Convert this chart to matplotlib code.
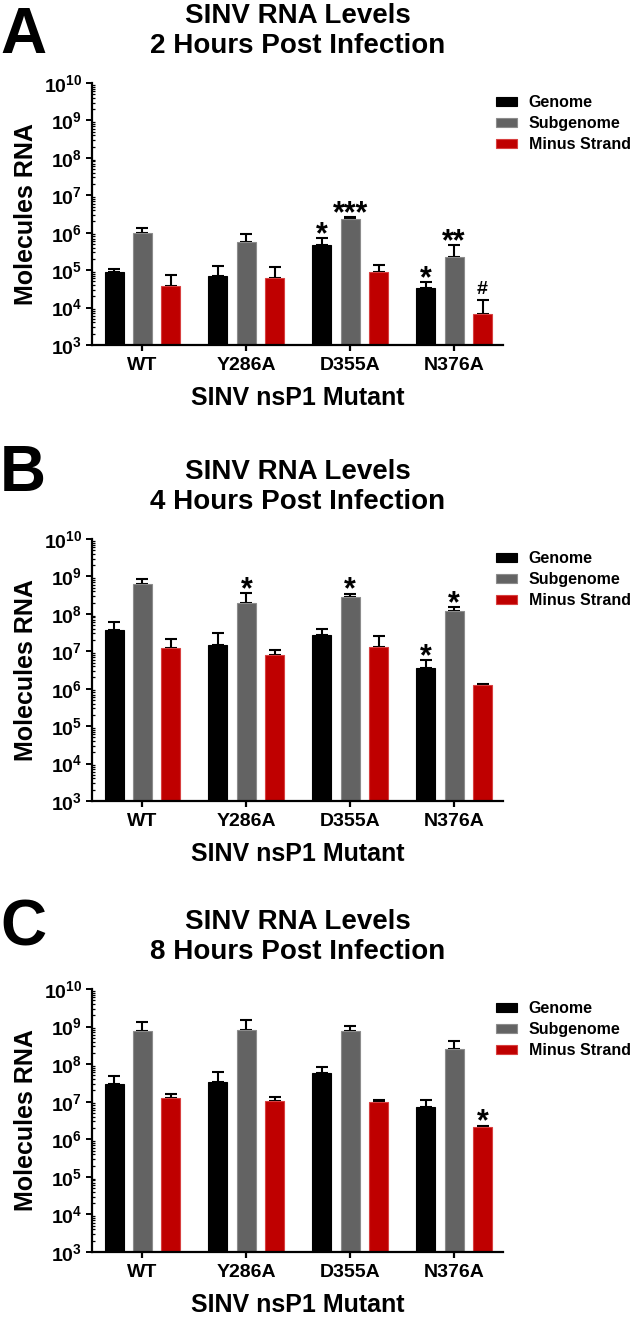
import numpy as np
import matplotlib
matplotlib.use("Agg")
import matplotlib.pyplot as plt
from matplotlib.ticker import LogLocator, FixedLocator, FixedFormatter, NullFormatter

# ==========================
# DATOS
# ==========================

mutantes = ["WT", "Y286A", "D355A", "N376A"]
series = ["Genome", "Subgenome", "Minus Strand"]
colores = ["#000000", "#636363", "#bf0000"]
bordes = ["#000000", "#8c8c8c", "#d84040"]

# 2 h
genome_2h = [9.0e4, 7.1e4, 4.7e5, 3.3e4]
genome_2h_sem = [1.7e4, 5.6e4, 2.4e5, 1.4e4]
sub_2h = [1.0e6, 5.5e5, 2.35e6, 2.2e5]
sub_2h_sem = [3.0e5, 3.9e5, 2.5e5, 2.4e5]
minus_2h = [3.7e4, 6.3e4, 8.8e4, 6.9e3]
minus_2h_sem = [3.5e4, 5.6e4, 4.9e4, 9.1e3]

# 4 h
genome_4h = [3.8e7, 1.5e7, 2.7e7, 3.5e6]
genome_4h_sem = [2.1e7, 1.5e7, 1.2e7, 2.2e6]
sub_4h = [6.3e8, 2.0e8, 2.9e8, 1.16e8]
sub_4h_sem = [2.2e8, 1.6e8, 5.5e7, 3.6e7]
minus_4h = [1.2e7, 8.2e6, 1.32e7, 1.24e6]
minus_4h_sem = [9.0e6, 2.3e6, 1.18e7, 1.1e5]

# 8 h
genome_8h = [3.0e7, 3.4e7, 5.8e7, 7.4e6]
genome_8h_sem = [1.8e7, 2.7e7, 2.5e7, 4.0e6]
sub_8h = [7.5e8, 8.0e8, 7.8e8, 2.5e8]
sub_8h_sem = [5.9e8, 7.0e8, 2.6e8, 1.65e8]
minus_8h = [1.27e7, 1.03e7, 9.9e6, 2.07e6]
minus_8h_sem = [3.3e6, 2.9e6, 1.5e6, 2.3e5]

# significancia: (grupo, serie, texto)
sig_2h = [(2, 0, "*"), (2, 1, "***"), (3, 0, "*"), (3, 1, "**"), (3, 2, "#")]
sig_4h = [(1, 1, "*"), (2, 1, "*"), (3, 0, "*"), (3, 1, "*")]
sig_8h = [(3, 2, "*")]

# ==========================
# ESTILO
# ==========================

plt.rcParams["font.family"] = ["Liberation Sans", "DejaVu Sans"]
plt.rcParams["font.weight"] = "bold"
plt.rcParams["mathtext.fontset"] = "custom"
plt.rcParams["mathtext.rm"] = "Liberation Sans:bold"
plt.rcParams["mathtext.it"] = "Liberation Sans:bold"
plt.rcParams["mathtext.bf"] = "Liberation Sans:bold"
plt.rcParams["mathtext.default"] = "rm"

W, H = 633, 1319
fig = plt.figure(figsize=(W / 100, H / 100), dpi=100)

ANCHO = 0.183
DESP = 0.274


def panel(top_px, bot_px, valores, errores, sig, titulo, letra, letra_base):

    left_px, right_px = 92, 503
    ax = fig.add_axes([
        left_px / W,
        1 - bot_px / H,
        (right_px - left_px) / W,
        (bot_px - top_px) / H
    ])

    x = np.arange(len(mutantes))

    for i in range(3):
        pos = x + (i - 1) * DESP
        ax.bar(pos, valores[i], width=ANCHO, color=colores[i],
               edgecolor=bordes[i], linewidth=0.8,
               label=series[i], zorder=2)
        ax.errorbar(pos, valores[i],
                    yerr=[np.zeros(len(mutantes)), errores[i]],
                    fmt="none", ecolor="black", elinewidth=1.5,
                    capsize=4, capthick=1.5, zorder=1)

    for g, s, txt in sig:
        y = valores[s][g] + errores[s][g]
        xs = x[g] + (s - 1) * DESP
        if txt == "#":
            ax.annotate(txt, (xs, y), xytext=(0, 4),
                        textcoords="offset points", ha="center",
                        va="baseline", fontsize=14, fontweight="bold")
        else:
            ax.annotate(txt, (xs, y), xytext=(0, -3.5),
                        textcoords="offset points", ha="center",
                        va="baseline", fontsize=22, fontweight="bold")

    ax.set_yscale("log")
    ax.set_ylim(1e3, 1e10)
    ax.set_xlim(-0.486, 3.471)

    ax.yaxis.set_major_locator(FixedLocator([10.0 ** k for k in range(3, 11)]))
    ax.yaxis.set_major_formatter(FixedFormatter(
        ["10$^{%d}$" % k for k in range(3, 11)]))
    ax.yaxis.set_minor_locator(LogLocator(base=10, subs=np.arange(2, 10), numticks=20))
    ax.yaxis.set_minor_formatter(NullFormatter())

    ax.set_xticks(x)
    ax.set_xticklabels(mutantes)

    for lado in ["top", "right"]:
        ax.spines[lado].set_visible(False)
    for lado in ["left", "bottom"]:
        ax.spines[lado].set_linewidth(1.6)

    ax.tick_params(axis="y", which="major", length=4, width=1.4,
                   labelsize=14, pad=3)
    ax.tick_params(axis="y", which="minor", length=2.4, width=0.9,
                   direction="in")
    ax.tick_params(axis="x", length=4.5, width=1.6, labelsize=14, pad=4)

    ax.set_ylabel("Molecules RNA", fontsize=18, fontweight="bold", labelpad=4)
    ax.set_xlabel("SINV nsP1 Mutant", fontsize=18, fontweight="bold", labelpad=9)

    ax.set_title(titulo, fontsize=20, fontweight="bold",
                 linespacing=1.2, pad=21.5)

    ax.legend(loc="upper left", bbox_to_anchor=(0.983, 0.955),
              frameon=False, fontsize=11.5, borderpad=0, borderaxespad=0,
              handlelength=1.3, handleheight=0.5, handletextpad=0.75,
              labelspacing=0.38)

    fig.text(0.0, 1 - letra_base / H, letra, fontsize=46,
             fontweight="bold", ha="left", va="baseline")

    return ax


panel(83, 345,
      [genome_2h, sub_2h, minus_2h],
      [genome_2h_sem, sub_2h_sem, minus_2h_sem],
      sig_2h, "SINV RNA Levels\n2 Hours Post Infection", "A", 53)

panel(539, 801,
      [genome_4h, sub_4h, minus_4h],
      [genome_4h_sem, sub_4h_sem, minus_4h_sem],
      sig_4h, "SINV RNA Levels\n4 Hours Post Infection", "B", 491)

panel(989, 1252,
      [genome_8h, sub_8h, minus_8h],
      [genome_8h_sem, sub_8h_sem, minus_8h_sem],
      sig_8h, "SINV RNA Levels\n8 Hours Post Infection", "C", 946)

fig.savefig("out.png", dpi=100)
